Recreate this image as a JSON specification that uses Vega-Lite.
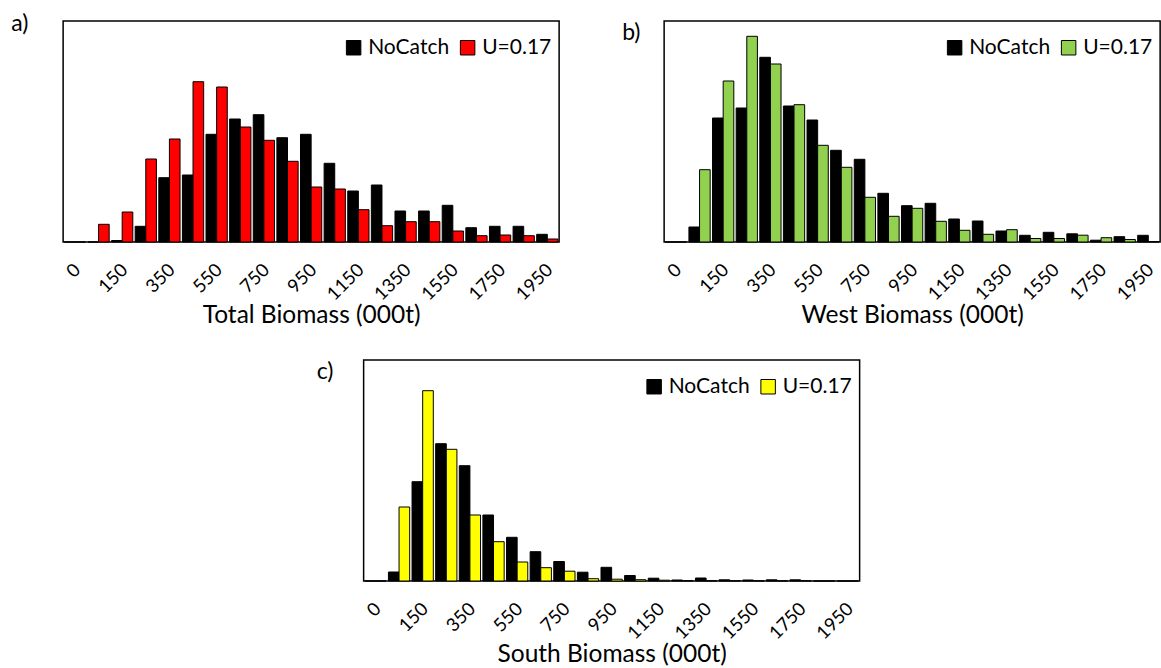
{
  "$schema": "https://vega.github.io/schema/vega-lite/v6.json",
  "background": "white",
  "padding": {"left": 10, "top": 12, "right": 1, "bottom": 2},
  "config": {
    "font": "Lato",
    "view": {"stroke": "black", "strokeWidth": 1.5},
    "axis": {"labelFontSize": 18.5, "labelAngle": -45, "labelPadding": 18, "labelOffset": -4, "ticks": false, "domain": false, "grid": false, "titleFontSize": 24.5, "titleFontWeight": "normal", "titlePadding": 0, "labelColor": "black", "titleColor": "black"},
    "legend": {"orient": "none", "legendX": 280, "legendY": 16, "direction": "horizontal", "title": null, "symbolType": "square", "symbolSize": 210, "symbolStrokeColor": "black", "symbolStrokeWidth": 1, "labelFontSize": 21, "labelColor": "black", "columnPadding": 7, "labelOffset": 4, "padding": 0},
    "title": {"fontSize": 23, "fontWeight": "normal", "anchor": "start", "frame": "group", "color": "black", "offset": 0}
  },
  "datasets": {
    "a": [
      {"bin":0,"series":"NoCatch","count":0},{"bin":0,"series":"U=0.17","count":0},
      {"bin":50,"series":"NoCatch","count":0},{"bin":50,"series":"U=0.17","count":17.7},
      {"bin":150,"series":"NoCatch","count":1.5},{"bin":150,"series":"U=0.17","count":30},
      {"bin":250,"series":"NoCatch","count":15.7},{"bin":250,"series":"U=0.17","count":83},
      {"bin":350,"series":"NoCatch","count":64.3},{"bin":350,"series":"U=0.17","count":103},
      {"bin":450,"series":"NoCatch","count":67},{"bin":450,"series":"U=0.17","count":160.3},
      {"bin":550,"series":"NoCatch","count":107.7},{"bin":550,"series":"U=0.17","count":155},
      {"bin":650,"series":"NoCatch","count":123},{"bin":650,"series":"U=0.17","count":115},
      {"bin":750,"series":"NoCatch","count":127.3},{"bin":750,"series":"U=0.17","count":101.7},
      {"bin":850,"series":"NoCatch","count":104.3},{"bin":850,"series":"U=0.17","count":80.7},
      {"bin":950,"series":"NoCatch","count":107.7},{"bin":950,"series":"U=0.17","count":55},
      {"bin":1050,"series":"NoCatch","count":78.7},{"bin":1050,"series":"U=0.17","count":53},
      {"bin":1150,"series":"NoCatch","count":51},{"bin":1150,"series":"U=0.17","count":32.3},
      {"bin":1250,"series":"NoCatch","count":57},{"bin":1250,"series":"U=0.17","count":16.3},
      {"bin":1350,"series":"NoCatch","count":31},{"bin":1350,"series":"U=0.17","count":20.3},
      {"bin":1450,"series":"NoCatch","count":31},{"bin":1450,"series":"U=0.17","count":20.3},
      {"bin":1550,"series":"NoCatch","count":36.7},{"bin":1550,"series":"U=0.17","count":11},
      {"bin":1650,"series":"NoCatch","count":14.3},{"bin":1650,"series":"U=0.17","count":6.3},
      {"bin":1750,"series":"NoCatch","count":15.7},{"bin":1750,"series":"U=0.17","count":7},
      {"bin":1850,"series":"NoCatch","count":15.7},{"bin":1850,"series":"U=0.17","count":6.3},
      {"bin":1950,"series":"NoCatch","count":7.7},{"bin":1950,"series":"U=0.17","count":3}
    ],
    "b": [
      {"bin":0,"series":"NoCatch","count":0},{"bin":0,"series":"U=0.17","count":0},
      {"bin":50,"series":"NoCatch","count":15},{"bin":50,"series":"U=0.17","count":72.3},
      {"bin":150,"series":"NoCatch","count":124},{"bin":150,"series":"U=0.17","count":161},
      {"bin":250,"series":"NoCatch","count":134},{"bin":250,"series":"U=0.17","count":205.7},
      {"bin":350,"series":"NoCatch","count":184.7},{"bin":350,"series":"U=0.17","count":178},
      {"bin":450,"series":"NoCatch","count":136},{"bin":450,"series":"U=0.17","count":137.3},
      {"bin":550,"series":"NoCatch","count":122},{"bin":550,"series":"U=0.17","count":96.7},
      {"bin":650,"series":"NoCatch","count":91.7},{"bin":650,"series":"U=0.17","count":74.7},
      {"bin":750,"series":"NoCatch","count":82.7},{"bin":750,"series":"U=0.17","count":44.7},
      {"bin":850,"series":"NoCatch","count":48.7},{"bin":850,"series":"U=0.17","count":25.7},
      {"bin":950,"series":"NoCatch","count":36.3},{"bin":950,"series":"U=0.17","count":33.7},
      {"bin":1050,"series":"NoCatch","count":38.7},{"bin":1050,"series":"U=0.17","count":20.7},
      {"bin":1150,"series":"NoCatch","count":23},{"bin":1150,"series":"U=0.17","count":11.7},
      {"bin":1250,"series":"NoCatch","count":21},{"bin":1250,"series":"U=0.17","count":7.7},
      {"bin":1350,"series":"NoCatch","count":11},{"bin":1350,"series":"U=0.17","count":12.3},
      {"bin":1450,"series":"NoCatch","count":6.7},{"bin":1450,"series":"U=0.17","count":3.5},
      {"bin":1550,"series":"NoCatch","count":9.7},{"bin":1550,"series":"U=0.17","count":3.5},
      {"bin":1650,"series":"NoCatch","count":8.2},{"bin":1650,"series":"U=0.17","count":6.8},
      {"bin":1750,"series":"NoCatch","count":1.8},{"bin":1750,"series":"U=0.17","count":4.3},
      {"bin":1850,"series":"NoCatch","count":5.3},{"bin":1850,"series":"U=0.17","count":2.5},
      {"bin":1950,"series":"NoCatch","count":6.7},{"bin":1950,"series":"U=0.17","count":0.5}
    ],
    "c": [
      {"bin":0,"series":"NoCatch","count":0},{"bin":0,"series":"U=0.17","count":0},
      {"bin":50,"series":"NoCatch","count":9},{"bin":50,"series":"U=0.17","count":74},
      {"bin":150,"series":"NoCatch","count":99.3},{"bin":150,"series":"U=0.17","count":190.3},
      {"bin":250,"series":"NoCatch","count":137.3},{"bin":250,"series":"U=0.17","count":131.7},
      {"bin":350,"series":"NoCatch","count":115.3},{"bin":350,"series":"U=0.17","count":66},
      {"bin":450,"series":"NoCatch","count":66},{"bin":450,"series":"U=0.17","count":39.3},
      {"bin":550,"series":"NoCatch","count":43.7},{"bin":550,"series":"U=0.17","count":19},
      {"bin":650,"series":"NoCatch","count":29.3},{"bin":650,"series":"U=0.17","count":13.3},
      {"bin":750,"series":"NoCatch","count":19.5},{"bin":750,"series":"U=0.17","count":9.8},
      {"bin":850,"series":"NoCatch","count":8.8},{"bin":850,"series":"U=0.17","count":2.3},
      {"bin":950,"series":"NoCatch","count":13.7},{"bin":950,"series":"U=0.17","count":1.8},
      {"bin":1050,"series":"NoCatch","count":5.5},{"bin":1050,"series":"U=0.17","count":1.3},
      {"bin":1150,"series":"NoCatch","count":2.8},{"bin":1150,"series":"U=0.17","count":0.8},
      {"bin":1250,"series":"NoCatch","count":1},{"bin":1250,"series":"U=0.17","count":0.4},
      {"bin":1350,"series":"NoCatch","count":3},{"bin":1350,"series":"U=0.17","count":0.4},
      {"bin":1450,"series":"NoCatch","count":1.2},{"bin":1450,"series":"U=0.17","count":0.3},
      {"bin":1550,"series":"NoCatch","count":1},{"bin":1550,"series":"U=0.17","count":0.3},
      {"bin":1650,"series":"NoCatch","count":1.2},{"bin":1650,"series":"U=0.17","count":0.3},
      {"bin":1750,"series":"NoCatch","count":1.2},{"bin":1750,"series":"U=0.17","count":0.3},
      {"bin":1850,"series":"NoCatch","count":0},{"bin":1850,"series":"U=0.17","count":0},
      {"bin":1950,"series":"NoCatch","count":0},{"bin":1950,"series":"U=0.17","count":0}
    ]
  },
  "vconcat": [
    {
      "hconcat": [
        {
          "data": {"name": "a"},
          "title": {"text": "a)", "dx": -52, "dy": 19},
          "width": 496, "height": 221,
          "mark": {"type": "bar", "stroke": "black", "strokeWidth": 1},
          "encoding": {
            "x": {"field": "bin", "type": "ordinal", "scale": {"domain": [0,50,150,250,350,450,550,650,750,850,950,1050,1150,1250,1350,1450,1550,1650,1750,1850,1950], "paddingInner": 0.1, "paddingOuter": 0.05}, "axis": {"values": [0,150,350,550,750,950,1150,1350,1550,1750,1950], "title": "Total Biomass (000t)"}},
            "xOffset": {"field": "series", "type": "nominal", "scale": {"domain": ["NoCatch","U=0.17"]}},
            "y": {"field": "count", "type": "quantitative", "axis": null, "scale": {"domain": [0,221], "nice": false}},
            "color": {"field": "series", "type": "nominal", "scale": {"domain": ["NoCatch","U=0.17"], "range": ["#000000","#FF0000"]}}
          }
        },
        {
          "data": {"name": "b"},
          "title": {"text": "b)", "dx": -42, "dy": 28},
          "width": 496, "height": 221,
          "mark": {"type": "bar", "stroke": "black", "strokeWidth": 1},
          "encoding": {
            "x": {"field": "bin", "type": "ordinal", "scale": {"domain": [0,50,150,250,350,450,550,650,750,850,950,1050,1150,1250,1350,1450,1550,1650,1750,1850,1950], "paddingInner": 0.1, "paddingOuter": 0.05}, "axis": {"values": [0,150,350,550,750,950,1150,1350,1550,1750,1950], "title": "West Biomass (000t)"}},
            "xOffset": {"field": "series", "type": "nominal", "scale": {"domain": ["NoCatch","U=0.17"]}},
            "y": {"field": "count", "type": "quantitative", "axis": null, "scale": {"domain": [0,221], "nice": false}},
            "color": {"field": "series", "type": "nominal", "scale": {"domain": ["NoCatch","U=0.17"], "range": ["#000000","#92D050"]}}
          }
        }
      ],
      "spacing": 105,
      "bounds": "flush",
      "resolve": {"scale": {"color": "independent", "x": "independent", "y": "independent"}, "legend": {"color": "independent"}}
    },
    {
      "data": {"name": "c"},
      "title": {"text": "c)", "dx": -47, "dy": 28},
      "width": 496, "height": 221,
      "mark": {"type": "bar", "stroke": "black", "strokeWidth": 1},
      "encoding": {
        "x": {"field": "bin", "type": "ordinal", "scale": {"domain": [0,50,150,250,350,450,550,650,750,850,950,1050,1150,1250,1350,1450,1550,1650,1750,1850,1950], "paddingInner": 0.1, "paddingOuter": 0.05}, "axis": {"values": [0,150,350,550,750,950,1150,1350,1550,1750,1950], "title": "South Biomass (000t)"}},
        "xOffset": {"field": "series", "type": "nominal", "scale": {"domain": ["NoCatch","U=0.17"]}},
        "y": {"field": "count", "type": "quantitative", "axis": null, "scale": {"domain": [0,221], "nice": false}},
        "color": {"field": "series", "type": "nominal", "scale": {"domain": ["NoCatch","U=0.17"], "range": ["#000000","#FFFF00"]}}
      }
    }
  ],
  "spacing": 31,
  "center": true,
  "resolve": {"scale": {"color": "independent", "x": "independent", "y": "independent"}, "legend": {"color": "independent"}}
}
